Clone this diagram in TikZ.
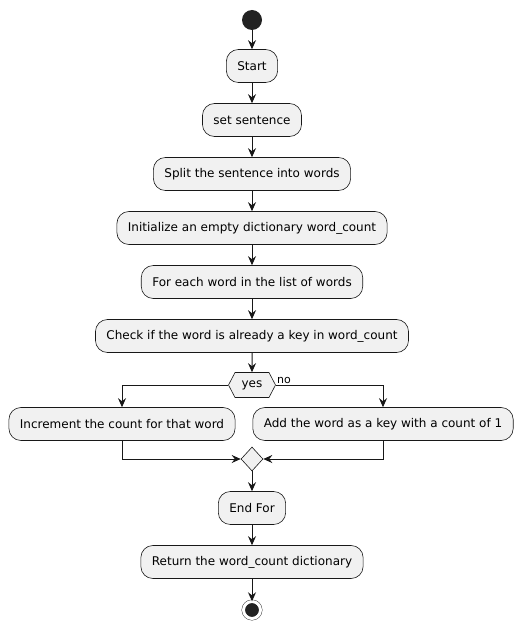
\documentclass[tikz,border=0pt]{standalone}
\usepackage{fontspec}
\setmainfont{DejaVu Sans}
\usetikzlibrary{shapes, arrows.meta, positioning, shapes.geometric, shapes.symbols}
\definecolor{boxfill}{HTML}{F1F1F1}
\definecolor{boxline}{HTML}{181818}
\definecolor{dotfill}{HTML}{222222}

\begin{document}
\begin{tikzpicture}[x=1pt, y=1pt, auto, node distance=54pt, >={Stealth[length=9pt, width=8pt, inset=3pt]}, font=\fontsize{12}{14}\selectfont]
    % Stili
    \tikzstyle{block} = [draw=boxline, fill=boxfill, line width=0.6pt, rectangle, rounded corners=12pt, minimum height=33pt, inner xsep=11pt]
    \tikzstyle{choice} = [draw=boxline, fill=boxfill, line width=0.6pt, signal, signal to=west and east, signal pointer angle=125, minimum width=47pt, minimum height=25pt, inner sep=0pt]
    \tikzstyle{merge} = [draw=boxline, fill=boxfill, line width=0.6pt, diamond, minimum width=22pt, minimum height=24pt, inner sep=0pt]
    \tikzstyle{init} = [circle, fill=dotfill, minimum size=20pt, inner sep=0pt]
    \tikzstyle{final} = [circle, draw=boxline, fill=dotfill, double=white, double distance=3pt, minimum size=17pt, inner sep=0pt]
    \tikzstyle{line} = [draw=boxline, line width=1pt]

    \useasboundingbox (0,0) rectangle (523,-631);

    % Nodi
    \node [init] (begin) at (252,-20) {};
    \node [block, below of=begin, node distance=46pt] (start) {Start};
    \node [block, below of=start] (set) {set sentence};
    \node [block, below of=set] (split) {Split the sentence into words};
    \node [block, below of=split] (init) {Initialize an empty dictionary word\_count};
    \node [block, below of=init] (loop) {For each word in the list of words};
    \node [block, below of=loop] (check) {Check if the word is already a key in word\_count};
    \node [choice, below of=check, node distance=49pt] (dec) {yes};
    \node [anchor=south west, inner sep=1pt, font=\fontsize{11}{13}\selectfont] (nolabel) at (dec.east) {no};
    \node [block, below of=dec, node distance=39pt, xshift=-130pt] (inc) {Increment the count for that word};
    \node [block, below of=dec, node distance=39pt, xshift=131pt] (add) {Add the word as a key with a count of 1};
    \node [merge, below of=dec, node distance=74pt] (join) {};
    \node [block, below of=join, node distance=49pt] (endfor) {End For};
    \node [block, below of=endfor] (ret) {Return the word\_count dictionary};
    \node [final, below of=ret, node distance=48pt] (stop) {};

    % Collegamenti
    \draw [line, ->] (begin) -- (start);
    \draw [line, ->] (start) -- (set);
    \draw [line, ->] (set) -- (split);
    \draw [line, ->] (split) -- (init);
    \draw [line, ->] (init) -- (loop);
    \draw [line, ->] (loop) -- (check);
    \draw [line, ->] (check) -- (dec);

    % Rami
    \draw [line, ->] (dec.west) -| (inc.north);
    \draw [line, ->] (dec.east) -| (add.north);
    \draw [line, ->] (inc.south) |- (join.west);
    \draw [line, ->] (add.south) |- (join.east);

    \draw [line, ->] (join) -- (endfor);
    \draw [line, ->] (endfor) -- (ret);
    \draw [line, ->] (ret) -- (stop);

\end{tikzpicture}
\end{document}
